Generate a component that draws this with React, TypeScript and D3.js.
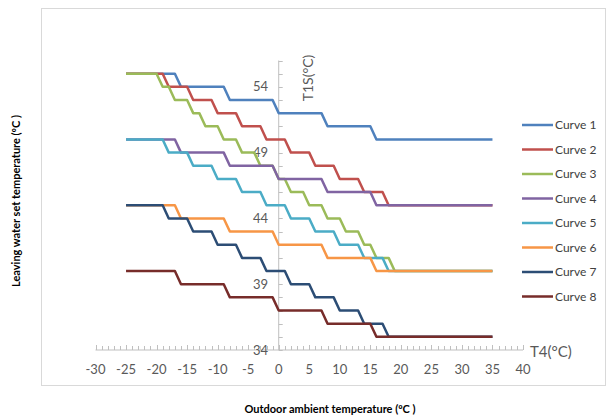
import React, { useRef, useEffect } from 'react';
import * as d3 from 'd3';

// [T4, T1S] break points of each curve
const curve1 = [[-25, 55], [-17, 55], [-16, 54], [-9, 54], [-8, 53], [-1, 53], [0, 52], [7, 52], [8, 51], [15, 51], [16, 50], [35, 50]];
const curve2 = [[-25, 55], [-19, 55], [-18, 54], [-15, 54], [-14, 53], [-11, 53], [-10, 52], [-7, 52], [-6, 51], [-3, 51], [-2, 50], [1, 50], [2, 49], [5, 49], [6, 48], [9, 48], [10, 47], [13, 47], [14, 46], [17, 46], [18, 45], [35, 45]];
const curve3 = [[-25, 55], [-20, 55], [-19, 54], [-18, 54], [-17, 53], [-15, 53], [-14, 52], [-13, 52], [-12, 51], [-10, 51], [-9, 50], [-7, 50], [-6, 49], [-4, 49], [-3, 48], [-1, 48], [0, 47], [1, 47], [2, 46], [4, 46], [5, 45], [7, 45], [8, 44], [10, 44], [11, 43], [13, 43], [14, 42], [15, 42], [16, 41], [18, 41], [19, 40], [35, 40]];
const curve4 = [[-25, 50], [-17, 50], [-16, 49], [-9, 49], [-8, 48], [-1, 48], [0, 47], [7, 47], [8, 46], [15, 46], [16, 45], [35, 45]];
const curve5 = [[-25, 50], [-19, 50], [-18, 49], [-15, 49], [-14, 48], [-11, 48], [-10, 47], [-7, 47], [-6, 46], [-3, 46], [-2, 45], [1, 45], [2, 44], [5, 44], [6, 43], [9, 43], [10, 42], [13, 42], [14, 41], [17, 41], [18, 40], [35, 40]];
const curve6 = [[-25, 45], [-17, 45], [-16, 44], [-9, 44], [-8, 43], [-1, 43], [0, 42], [7, 42], [8, 41], [15, 41], [16, 40], [35, 40]];
const curve7 = [[-25, 45], [-19, 45], [-18, 44], [-15, 44], [-14, 43], [-11, 43], [-10, 42], [-7, 42], [-6, 41], [-3, 41], [-2, 40], [1, 40], [2, 39], [5, 39], [6, 38], [9, 38], [10, 37], [13, 37], [14, 36], [17, 36], [18, 35], [35, 35]];
const curve8 = [[-25, 40], [-17, 40], [-16, 39], [-9, 39], [-8, 38], [-1, 38], [0, 37], [7, 37], [8, 36], [15, 36], [16, 35], [35, 35]];

const curveNames = ['Curve 1', 'Curve 2', 'Curve 3', 'Curve 4', 'Curve 5', 'Curve 6', 'Curve 7', 'Curve 8'];
const curveColors = ['#4F81BD', '#C0504D', '#9BBB59', '#8064A2', '#4BACC6', '#F79646', '#2C4D75', '#772C2A'];

const xTicks = [-30, -25, -20, -15, -10, -5, 0, 5, 10, 15, 20, 25, 30, 35, 40];
const yTicks = [34, 39, 44, 49, 54];

export default function App() {
  const ref = useRef<SVGSVGElement | null>(null);

  useEffect(() => {
    if (!ref.current) return;
    const svg = d3.select(ref.current);
    svg.selectAll('*').remove();

    const font = 'Lato, "Open Sans", sans-serif';
    const x = d3.scaleLinear().domain([-30, 40]).range([95.5, 523]);
    const y = d3.scaleLinear().domain([34, 56]).range([350, 60.5]);
    const axisColor = '#BFBFBF';

    // chart border
    svg.append('rect')
      .attr('x', 41.5).attr('y', 8.5)
      .attr('width', 564).attr('height', 377)
      .attr('fill', 'white').attr('stroke', '#D9D9D9');

    // x axis
    const gx = svg.append('g');
    gx.append('line')
      .attr('x1', x(-30)).attr('x2', x(40))
      .attr('y1', y(34)).attr('y2', y(34))
      .attr('stroke', axisColor);
    d3.range(-30, 41).forEach(v => {
      gx.append('line')
        .attr('x1', Math.round(x(v)) + 0.5).attr('x2', Math.round(x(v)) + 0.5)
        .attr('y1', y(34)).attr('y2', y(34) - (v % 5 === 0 ? 5 : 4))
        .attr('stroke', axisColor);
    });
    xTicks.forEach(v => {
      gx.append('text')
        .attr('x', x(v)).attr('y', 374)
        .attr('text-anchor', 'middle')
        .attr('font-family', font).attr('font-size', 13)
        .attr('fill', '#595959')
        .text(v);
    });
    gx.append('text')
      .attr('x', 530).attr('y', 357)
      .attr('font-family', font).attr('font-size', 15)
      .attr('fill', '#595959')
      .text('T4(°C)');

    // y axis
    const gy = svg.append('g');
    gy.append('line')
      .attr('x1', x(0)).attr('x2', x(0))
      .attr('y1', y(34)).attr('y2', y(56))
      .attr('stroke', axisColor);
    d3.range(34, 57).forEach(v => {
      gy.append('line')
        .attr('x1', x(0)).attr('x2', x(0) + 4)
        .attr('y1', Math.round(y(v)) + 0.5).attr('y2', Math.round(y(v)) + 0.5)
        .attr('stroke', axisColor);
    });
    yTicks.forEach(v => {
      gy.append('text')
        .attr('x', 268).attr('y', y(v) + 4.5)
        .attr('text-anchor', 'end')
        .attr('font-family', font).attr('font-size', 13)
        .attr('fill', '#595959')
        .text(v);
    });
    gy.append('text')
      .attr('transform', `translate(313, 78) rotate(-90)`)
      .attr('text-anchor', 'middle')
      .attr('font-family', font).attr('font-size', 14)
      .attr('fill', '#595959')
      .text('T1S(°C)');

    // curves
    const line = d3.line<number[]>().x(d => x(d[0])).y(d => y(d[1]));
    const curves = [curve1, curve2, curve3, curve4, curve5, curve6, curve7, curve8];
    curves.forEach((c, i) => {
      svg.append('path')
        .attr('d', line(c))
        .attr('fill', 'none')
        .attr('stroke', curveColors[i])
        .attr('stroke-width', 2.5)
        .attr('stroke-linejoin', 'round');
    });

    // legend
    const lg = svg.append('g');
    curveNames.forEach((name, i) => {
      const ly = 125 + i * 24.5;
      lg.append('line')
        .attr('x1', 522).attr('x2', 553)
        .attr('y1', ly).attr('y2', ly)
        .attr('stroke', curveColors[i]).attr('stroke-width', 2.5);
      lg.append('text')
        .attr('x', 555).attr('y', ly + 4)
        .attr('font-family', font).attr('font-size', 12)
        .attr('fill', '#404040')
        .text(name);
    });

    // axis titles
    svg.append('text')
      .attr('x', 330).attr('y', 413)
      .attr('text-anchor', 'middle')
      .attr('font-family', font).attr('font-size', 11).attr('font-weight', 700)
      .attr('fill', '#000')
      .text('Outdoor ambient temperature (ºC )');
    svg.append('text')
      .attr('transform', 'translate(20, 201) rotate(-90)')
      .attr('text-anchor', 'middle')
      .attr('font-family', font).attr('font-size', 11).attr('font-weight', 700)
      .attr('fill', '#000')
      .text('Leaving water set temperature (ºC )');
  }, []);

  return (
    <div style={{ position: 'fixed', left: 0, top: 0 }}>
      <svg ref={ref} width={613} height={418} style={{ display: 'block', background: 'white' }} />
    </div>
  );
}
